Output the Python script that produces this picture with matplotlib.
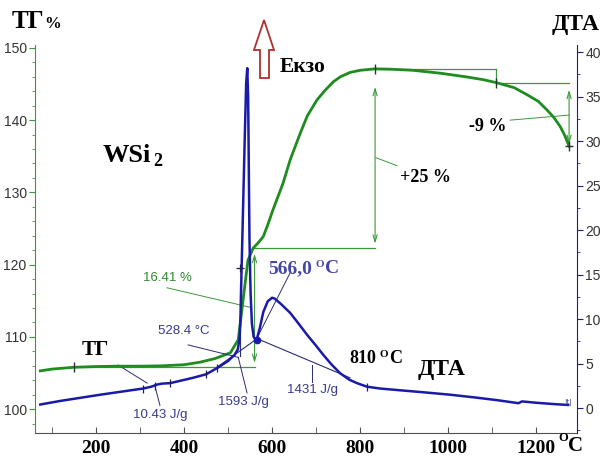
import matplotlib as mpl
mpl.use('Agg')
import matplotlib.pyplot as plt
from matplotlib.patches import Polygon
from matplotlib.ticker import MultipleLocator

# TG curve (mass change, %) vs temperature
tg_temp = [73, 100, 150, 200, 250, 300, 350, 400, 436, 470, 505, 523, 532, 545, 557,
           568, 580, 590, 602, 625, 641, 664, 680, 702, 720, 739, 755, 777, 800, 834,
           870, 920, 982, 1040, 1080, 1109, 1150, 1180, 1205, 1225, 1240, 1255, 1265, 1275]
tg_val = [105.3, 105.55, 105.8, 105.9, 105.95, 105.95, 106.0, 106.15, 106.5, 107.0, 107.8,
          109.6, 114.1, 120.6, 122.3, 123.0, 123.9, 125.5, 127.6, 131.3, 134.5, 138.2,
          140.6, 142.8, 144.1, 145.3, 146.0, 146.6, 146.9, 147.1, 147.05, 146.9, 146.5,
          146.0, 145.6, 145.2, 144.5, 143.5, 142.6, 141.4, 140.4, 139.1, 137.9, 136.4]

# DTA curve (µV) vs temperature
dta_temp = [73, 118, 209, 307, 325, 339, 350, 368, 420, 450, 475, 500, 515, 522, 526, 528,
            530, 534, 538, 541, 543.5, 545.5, 547, 548.5, 551, 554, 558, 562, 566, 572,
            580, 590, 600, 606, 620, 641, 660, 680, 700, 716, 735, 755, 775, 793, 816,
            845, 891, 950, 1005, 1060, 1110, 1160, 1168, 1200, 1240, 1273]
dta_val = [0.4, 0.8, 1.5, 2.2, 2.4, 2.65, 2.75, 2.8, 3.4, 3.8, 4.5, 5.3, 6.0, 6.6, 7.8, 10.0,
           14.4, 22.6, 30.8, 36.5, 38.2, 35.0, 27.0, 19.0, 13.0, 9.5, 8.0, 7.7, 7.9, 9.0,
           10.8, 12.0, 12.4, 12.3, 11.7, 10.7, 9.5, 8.2, 7.0, 6.0, 4.9, 3.9, 3.2, 2.8, 2.4,
           2.2, 2.0, 1.75, 1.5, 1.2, 0.9, 0.55, 0.75, 0.6, 0.45, 0.35]

# step levels of the TG evaluation
tg_base = 105.9
tg_knee = 122.3
tg_max = 147.1
tg_step = 145.2
tg_end = 136.4
t_knee, t_max, t_step, t_end = 557, 834, 1109, 1275

# DTA evaluation points
dta_min_t, dta_min = 566, 7.7
x_ticks = [200, 400, 600, 800, 1000, 1200]

W, H = 605, 457
GREEN = '#1e8c1e'
GREEN_L = '#3c9a3c'
BLUE = '#1a1aa8'
BLUE_D = '#2c2c70'
BLUE_T = '#3a3a90'
SERIF = 'Liberation Serif'
NARROW = ['Liberation Sans Narrow', 'Liberation Sans']


def fx(px):
    return px / W


def fy(py):
    return 1 - py / H


fig = plt.figure(figsize=(W / 100, H / 100), dpi=100)
ax = fig.add_axes([fx(35), fy(433), fx(577) - fx(35), fy(45) - fy(433)])
ax2 = ax.twinx()

ax.plot(tg_temp, tg_val, color=GREEN, lw=2.0, zorder=3)
ax2.plot(dta_temp, dta_val, color=BLUE, lw=1.8, zorder=3)

ax.set_xlim(61, 1293)
ax.set_ylim(96.7, 150.4)
ax2.set_ylim(-2.8, 40.8)

# axes styling
ax.spines['top'].set_visible(False)
ax2.spines['top'].set_visible(False)
ax.spines['right'].set_visible(False)
ax.spines['left'].set_color('#3a9a3a')
ax.spines['bottom'].set_color('#505050')
ax2.spines['right'].set_color('#202080')
ax2.spines['left'].set_visible(False)
ax2.spines['bottom'].set_visible(False)

ax.xaxis.set_minor_locator(MultipleLocator(100))
ax.set_xticks(x_ticks)
ax.set_xticklabels([str(t) for t in x_ticks], fontfamily=SERIF, fontweight='bold', fontsize=14)
ax.tick_params(axis='x', which='both', direction='in', length=4, color='#505050', pad=5)

ax.yaxis.set_minor_locator(MultipleLocator(2))
ax.set_yticks([100, 110, 120, 130, 140, 150])
ax.tick_params(axis='y', which='major', direction='out', length=4, color='#3a9a3a',
               labelcolor='#333333', labelsize=10, pad=2)
ax.tick_params(axis='y', which='minor', direction='out', length=2.5, color='#3a9a3a')
for lab in ax.get_yticklabels():
    lab.set_family(NARROW)

ax2.set_yticks([0, 5, 10, 15, 20, 25, 30, 35, 40])
ax2.yaxis.set_minor_locator(MultipleLocator(2.5))
ax2.tick_params(axis='y', which='major', direction='out', length=4, color='#202080',
                labelcolor='#333333', labelsize=10, pad=2)
ax2.tick_params(axis='y', which='minor', direction='out', length=2.5, color='#202080')
for lab in ax2.get_yticklabels():
    lab.set_family(NARROW)

# --- TG evaluation (green) ---
glw = 0.9
ax.plot([150, 560], [tg_base, tg_base], color=GREEN_L, lw=glw, zorder=2)
ax.plot([t_knee, t_max], [tg_knee, tg_knee], color=GREEN_L, lw=glw, zorder=2)
ax.plot([t_max, t_step], [tg_max, tg_max], color=GREEN_L, lw=glw, zorder=2)
ax.plot([t_step, t_step], [tg_max, tg_step], color=GREEN_L, lw=glw, zorder=2)
ax.plot([t_step, t_end], [tg_step, tg_step], color=GREEN_L, lw=glw, zorder=2)
arrow_kw = dict(arrowstyle='<->,head_length=0.5,head_width=0.15', color=GREEN_L, lw=0.8,
                shrinkA=0, shrinkB=0)
ax.annotate('', xy=(560, tg_base + 0.5), xytext=(560, tg_knee - 0.8), arrowprops=arrow_kw)
ax.annotate('', xy=(t_max, tg_knee + 0.6), xytext=(t_max, tg_max - 2.5), arrowprops=arrow_kw)
ax.annotate('', xy=(t_end, tg_step - 1.0), xytext=(t_end, tg_end + 0.3), arrowprops=arrow_kw)
ax.plot([150, t_max, t_step, t_end], [tg_base, tg_max, tg_step, tg_end], ls='none',
        marker='|', ms=7, mew=1.0, color='#303030', zorder=4)
ax.plot([t_end], [tg_end], ls='none', marker='_', ms=6, mew=1.0, color='#303030', zorder=4)

# leaders of the TG labels
ax.plot([361, 550], [116.8, 114.1], color=GREEN_L, lw=0.7, zorder=2)
ax.text(361, 118.1, '16.41 %', color='#2e8b2e', fontsize=9.5, family=NARROW,
        ha='center', va='center')
ax.plot([836, 884], [134.8, 133.7], color=GREEN_L, lw=0.7, zorder=2)
ax.plot([1141, t_end], [140.0, 140.7], color=GREEN_L, lw=0.7, zorder=2)
ax.plot([250, 316], [106.1, 103.6], color=BLUE_D, lw=0.7, zorder=2)

ax.text(891, 132.0, '+25 %', fontsize=13, family=SERIF, fontweight='bold',
        ha='left', va='center')
ax.text(1132, 139.1, '-9 %', fontsize=13, family=SERIF, fontweight='bold',
        ha='right', va='center')

# --- DTA evaluation (blue) ---
blw = 0.8
ax2.plot([475, dta_min_t], [4.6, 7.8], color=BLUE_D, lw=blw, zorder=2)
ax2.plot([527, 527], [5.9, 14.0], color=BLUE_D, lw=blw, zorder=2)
ax2.plot([dta_min_t, 777], [7.8, 3.4], color=BLUE_D, lw=blw, zorder=2)
ax2.plot([334, 345], [2.4, 0.3], color=BLUE_D, lw=0.7, zorder=2)
ax2.plot([409, 523], [7.1, 5.7], color=BLUE_D, lw=0.7, zorder=2)
ax2.plot([543, 523], [1.7, 5.7], color=BLUE_D, lw=0.7, zorder=2)
ax2.plot([691, 691], [4.8, 2.9], color=BLUE_D, lw=0.7, zorder=2)
ax2.plot([568, 641], [8.1, 15.2], color=BLUE_D, lw=0.7, zorder=2)
ax2.plot([307, 334, 368, 450, 475, 527, 816], [2.2, 2.5, 2.8, 3.8, 4.5, 15.7, 2.4],
         ls='none', marker='|', ms=6, mew=0.9, color='#202050', zorder=4)
ax2.plot([527], [15.7], ls='none', marker='_', ms=6, mew=0.9, color='#202050', zorder=4)
ax2.plot([dta_min_t], [dta_min], ls='none', marker='o', ms=4.5, color=BLUE, zorder=5)

ax2.text(345, -0.75, '10.43 J/g', color=BLUE_T, fontsize=9.5, family=NARROW,
         ha='center', va='center')
ax2.text(398, 8.65, '528.4 °C', color=BLUE_T, fontsize=9.5, family=NARROW,
         ha='center', va='center')
ax2.text(534, 0.65, '1593 J/g', color=BLUE_T, fontsize=9.5, family=NARROW,
         ha='center', va='center')
ax2.text(691, 2.0, '1431 J/g', color=BLUE_T, fontsize=9.5, family=NARROW,
         ha='center', va='center')
ax2.text(1273, 0.6, '|t|', color=BLUE_T, fontsize=5, ha='center', va='center')

# --- headline labels ---
bold = dict(family=SERIF, fontweight='bold', color='black')
blue_bold = dict(family=SERIF, fontweight='bold', color='#4646a8')
fig.text(fx(12), fy(28), 'ТГ', fontsize=18, ha='left', va='baseline', **bold)
fig.text(fx(44), fy(28), '%', fontsize=12, ha='left', va='baseline', **bold)
fig.text(fx(552), fy(30), 'ДТА', fontsize=17, ha='left', va='baseline', **bold)
fig.text(fx(103), fy(162), 'WSi', fontsize=19, ha='left', va='baseline', **bold)
fig.text(fx(153), fy(166), '2', fontsize=13, ha='left', va='baseline', **bold)
fig.text(fx(280), fy(72), 'Екзо', fontsize=15.5, ha='left', va='baseline', **bold)
fig.text(fx(82), fy(355), 'ТГ', fontsize=15, ha='left', va='baseline', **bold)
fig.text(fx(418), fy(375), 'ДТА', fontsize=17, ha='left', va='baseline', **bold)
fig.text(fx(349), fy(363), '810', fontsize=13, ha='left', va='baseline', **bold)
fig.text(fx(380), fy(357), 'O', fontsize=8, ha='left', va='baseline', **bold)
fig.text(fx(389), fy(363), 'C', fontsize=13, ha='left', va='baseline', **bold)
fig.text(fx(268), fy(273), '566,0', fontsize=14, ha='left', va='baseline', **blue_bold)
fig.text(fx(315), fy(267), 'O', fontsize=8, ha='left', va='baseline', **blue_bold)
fig.text(fx(325), fy(273), 'C', fontsize=14, ha='left', va='baseline', **blue_bold)
fig.text(fx(558), fy(441), 'O', fontsize=9, ha='left', va='baseline', **bold)
fig.text(fx(568), fy(451), 'C', fontsize=15, ha='left', va='baseline', **bold)

# exo direction arrow
arrow_px = [(264, 20), (274, 50), (269, 50), (269, 78), (260, 78), (260, 50), (254, 50)]
fig.patches.append(Polygon([(fx(x), fy(y)) for x, y in arrow_px], closed=True,
                           transform=fig.transFigure, facecolor='white',
                           edgecolor='#b03030', lw=1.3))

fig.savefig('out.png', dpi=100)
